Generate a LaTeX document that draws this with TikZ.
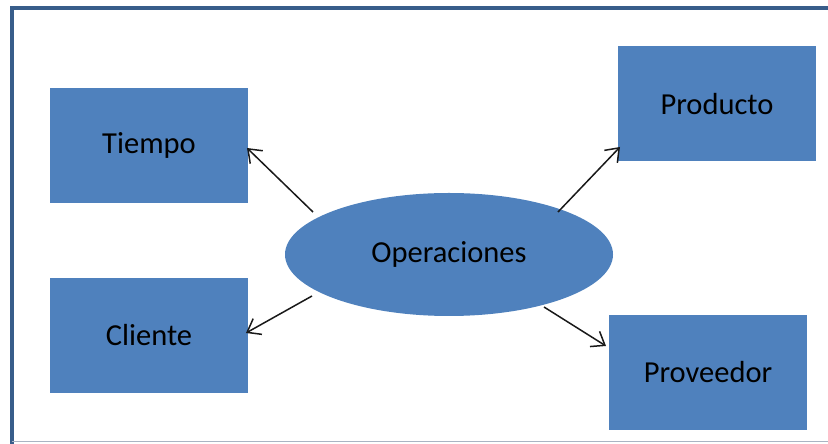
\documentclass[tikz,border=0pt]{standalone}
\usepackage{fontspec}
\setmainfont{Carlito}
\usetikzlibrary{shapes.geometric,arrows.meta}
\definecolor{boxblue}{RGB}{79,129,189}
\definecolor{framblue}{RGB}{56,93,138}
\definecolor{edgegray}{RGB}{170,180,195}
\tikzset{
  entity/.style={rectangle, fill=boxblue, minimum width=198pt, minimum height=115pt,
    inner sep=0pt, font=\fontsize{30.5}{36}\selectfont, text=black},
  hub/.style={ellipse, fill=boxblue, minimum width=328pt, minimum height=123pt,
    inner sep=0pt, font=\fontsize{30.5}{36}\selectfont, text=black},
  link/.style={draw=black!90, line width=1.5pt,
    -{Straight Barb[length=12pt,width=18pt,line width=1.5pt]}},
}
\begin{document}
\begin{tikzpicture}[x=1pt,y=1pt]
  \useasboundingbox (0,0) rectangle (828,444);
  \clip (0,0) rectangle (828,444);
  % outer frame (right side runs past the page edge)
  \draw[framblue, line width=4pt] (850,436) -- (11.5,436) -- (11.5,-10);
  \draw[edgegray, line width=1pt] (11.5,2) -- (828,2);
  % entities
  \node[entity] (tiempo)    at (149,298.5) {Tiempo};
  \node[entity] (cliente)   at (149,108.5) {Cliente};
  \node[entity] (producto)  at (717,340)   {Producto};
  \node[entity] (proveedor) at (708,71.5)  {Proveedor};
  \node[hub]    (ops)       at (449,189.5) {Operaciones};
  % relations
  \draw[link] ([shift={(-136,42.5)}]ops.center) -- ([shift={(98,-2.5)}]tiempo.center);
  \draw[link] ([shift={(109,42.5)}]ops.center)  -- ([shift={(-97,-43)}]producto.center);
  \draw[link] ([shift={(-137,-41.5)}]ops.center) -- ([shift={(97,2.5)}]cliente.center);
  \draw[link] ([shift={(95,-52.5)}]ops.center)  -- ([shift={(-102,26.5)}]proveedor.center);
\end{tikzpicture}
\end{document}
